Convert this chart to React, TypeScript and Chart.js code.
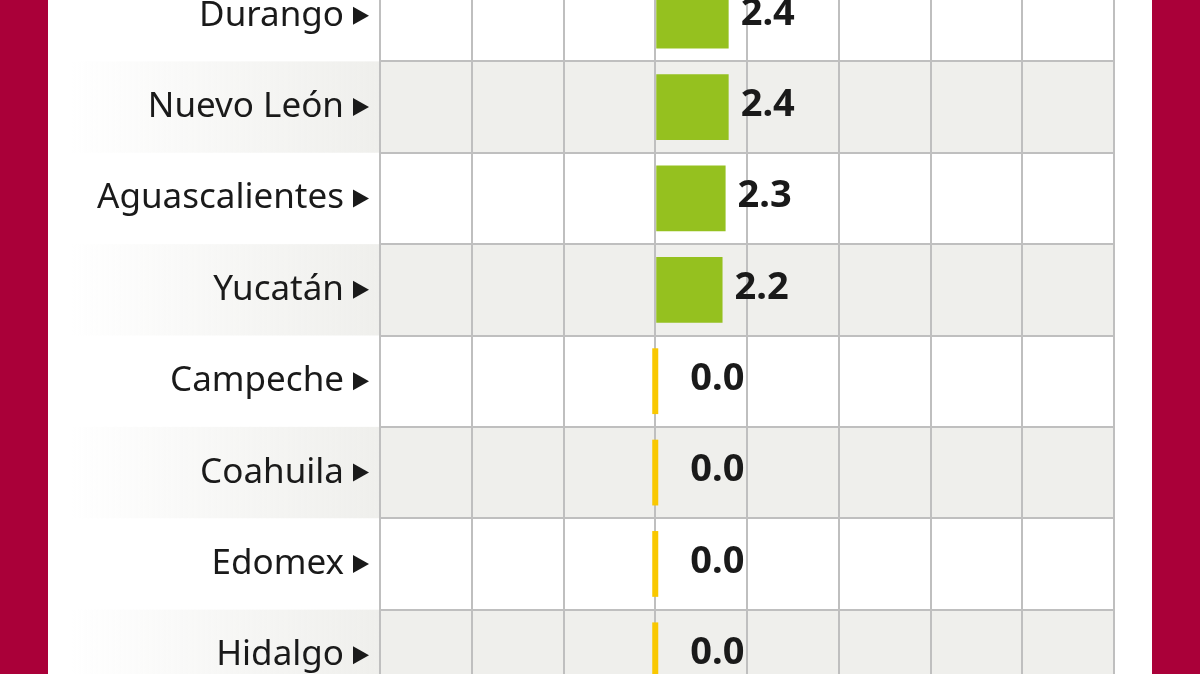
import React, { useEffect, useRef } from "react";
import { Chart, registerables } from "chart.js";

Chart.register(...registerables);

// Categories and values
const states = ["Durango", "Nuevo León", "Aguascalientes", "Yucatán", "Campeche", "Coahuila", "Edomex", "Hidalgo"];
const values = [2.4, 2.4, 2.3, 2.2, 0.0, 0.0, 0.0, 0.0];

// Value axis range
const axisMin = -9;
const axisMax = 15;
const axisStep = 3;

const GREEN = "#95c11f";
const YELLOW = "#f9c800";
const STRIPE = "#efefec";
const GRID = "#bfbfbf";
const INK = "#1a1a1a";
const CRIMSON = "#aa0039";
const FONT = "'Noto Sans', 'Open Sans', sans-serif";

// Alternating row bands, with a fade into the label column
const stripePlugin = {
  id: "stripes",
  beforeDraw(chart: any) {
    const { ctx, chartArea, scales } = chart;
    const y = scales.y;
    const half = Math.abs(y.getPixelForValue(1) - y.getPixelForValue(0)) / 2;
    ctx.save();
    states.forEach((_, i) => {
      if (i % 2 === 0) return;
      const cy = y.getPixelForValue(i);
      const top = cy - half;
      const h = half * 2;
      ctx.fillStyle = STRIPE;
      ctx.fillRect(chartArea.left, top, chartArea.right - chartArea.left, h);
      const g = ctx.createLinearGradient(22, 0, chartArea.left, 0);
      g.addColorStop(0, "rgba(239,239,236,0)");
      g.addColorStop(1, "rgba(239,239,236,1)");
      ctx.fillStyle = g;
      ctx.fillRect(22, top, chartArea.left - 22, h);
    });
    ctx.restore();
  },
};

// Zero markers, label arrows and value labels
const decorPlugin = {
  id: "decor",
  afterDatasetsDraw(chart: any) {
    const { ctx, chartArea, scales } = chart;
    const meta = chart.getDatasetMeta(0);
    const zero = scales.x.getPixelForValue(0);
    ctx.save();
    meta.data.forEach((bar: any, i: number) => {
      const { x, y, height } = bar.getProps(["x", "y", "height"], true);
      if (values[i] === 0) {
        ctx.fillStyle = YELLOW;
        ctx.fillRect(zero - 3, y - height / 2, 6, height);
      }
      ctx.fillStyle = INK;
      ctx.font = `bold 38px ${FONT}`;
      ctx.textAlign = "left";
      ctx.textBaseline = "middle";
      const lx = Math.max(x + 12, zero + 35);
      ctx.fillText(values[i].toFixed(1), lx, y - 2);
    });
    states.forEach((_, i) => {
      const ty = scales.y.getPixelForTick(i);
      const xr = chartArea.left - 11;
      ctx.fillStyle = INK;
      ctx.beginPath();
      ctx.moveTo(xr - 16, ty - 9);
      ctx.lineTo(xr, ty);
      ctx.lineTo(xr - 16, ty + 9);
      ctx.closePath();
      ctx.fill();
    });
    ctx.restore();
  },
};

export default function App() {
  const ref = useRef<HTMLCanvasElement | null>(null);

  useEffect(() => {
    if (!ref.current) return;
    const chart = new Chart(ref.current, {
      type: "bar",
      data: {
        labels: states,
        datasets: [
          {
            data: values,
            backgroundColor: GREEN,
            borderWidth: 0,
            barPercentage: 0.72,
            categoryPercentage: 1,
          },
        ],
      },
      options: {
        indexAxis: "y",
        responsive: false,
        animation: false,
        layout: { padding: { left: 0, right: 38, top: 0, bottom: 0 } },
        plugins: { legend: { display: false }, tooltip: { enabled: false } },
        scales: {
          x: {
            min: axisMin,
            max: axisMax,
            ticks: { stepSize: axisStep, display: false },
            grid: { color: GRID, lineWidth: 2, drawTicks: false },
            border: { display: false },
            afterFit(scale: any) {
              scale.height = 0;
              scale.paddingLeft = 0;
              scale.paddingRight = 0;
            },
          },
          y: {
            ticks: {
              color: INK,
              font: { family: FONT, size: 35 },
              padding: 36,
            },
            grid: { color: GRID, lineWidth: 2, drawTicks: false, offset: true },
            border: { display: false },
            afterFit(scale: any) {
              scale.width = 332;
              scale.paddingTop = 0;
              scale.paddingBottom = 0;
            },
          },
        },
      },
      plugins: [stripePlugin, decorPlugin],
    });
    return () => chart.destroy();
  }, []);

  return (
    <div
      style={{
        position: "fixed",
        left: 0,
        top: 0,
        width: 1200,
        height: 674,
        overflow: "hidden",
        background: "#ffffff",
      }}
    >
      <canvas
        ref={ref}
        width={1104}
        height={731}
        style={{ position: "absolute", left: 48, top: -30, width: 1104, height: 731 }}
      />
      <div style={{ position: "absolute", left: 0, top: 0, width: 48, height: 674, background: CRIMSON }} />
      <div style={{ position: "absolute", right: 0, top: 0, width: 48, height: 674, background: CRIMSON }} />
    </div>
  );
}
